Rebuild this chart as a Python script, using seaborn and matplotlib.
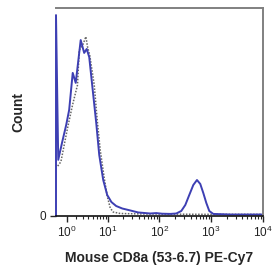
import numpy as np
import pandas as pd
import matplotlib
matplotlib.use("Agg")
import matplotlib.pyplot as plt
import seaborn as sns

# ---- data ----
cd8_x = [0, 0, 0.2, 0.56, 0.94, 1.24, 1.63, 1.99, 2.67, 3.22, 3.67, 4.16, 4.93, 5.83,
         6.71, 8.06, 9.67, 11.7, 14.5, 19.05, 24.9, 38.9, 66.4, 86.7, 112, 162, 211,
         264, 316, 377, 451, 531, 615, 703, 804, 919, 1097, 2339, 10000]
cd8_y = [0, 96.6, 27, 35.6, 43.8, 51, 68.8, 64, 84.6, 78.4, 80.3, 76.4, 60.6, 44.7,
         29.3, 17.3, 10.1, 6.7, 4.8, 3.6, 2.9, 1.7, 1.2, 1.4, 1.1, 1.0, 1.2,
         2.4, 5.3, 10.1, 14.9, 17.3, 15.4, 11.1, 6.3, 2.4, 1.0, 0.7, 0.7]

iso_x = [0.152, 0.44, 1.07, 1.61, 2.22, 2.46, 2.95, 3.52, 3.82, 4.26, 5.30, 6.11,
         7.02, 8.44, 9.67, 11.1, 12.7, 17.4, 42.5, 615, 10000]
iso_y = [24, 26.1, 42.2, 53.4, 63, 79.8, 82, 86.2, 81.4, 77.4, 63, 46, 31.7, 18.3,
         9.6, 3.8, 1.9, 1.2, 1.0, 0.8, 0.8]

major_vals = [1, 10, 100, 1000, 10000]
major_labels = [r"$10^{0}$", r"$10^{1}$", r"$10^{2}$", r"$10^{3}$", r"$10^{4}$"]
x_label = "Mouse CD8a (53-6.7) PE-Cy7"
y_label = "Count"

sns.set_theme(style="ticks")
plt.rcParams["font.family"] = ["Liberation Sans", "DejaVu Sans"]
plt.rcParams["mathtext.fontset"] = "custom"
plt.rcParams["mathtext.rm"] = "Liberation Sans"
plt.rcParams["mathtext.it"] = "Liberation Sans"
plt.rcParams["mathtext.bf"] = "Liberation Sans:bold"

fig = plt.figure(figsize=(2.8, 2.8), dpi=100)
ax = fig.add_axes([0.2, 0.2286, 0.739, 0.7428])

iso = pd.DataFrame({"x": iso_x, "y": iso_y})
cd8 = pd.DataFrame({"x": cd8_x, "y": cd8_y})

sns.lineplot(data=iso, x="x", y="y", ax=ax, sort=False, estimator=None,
             color="#666666", linestyle=(0, (1, 1)), linewidth=1.1)
sns.lineplot(data=cd8, x="x", y="y", ax=ax, sort=False, estimator=None,
             color="#3d3fb3", linewidth=1.4)
for ln in ax.get_lines():
    ln.set_clip_on(False)

fwd = lambda v: np.arcsinh(np.asarray(v, dtype=float) / 2.0) / np.log(10)
inv = lambda u: 2.0 * np.sinh(np.asarray(u, dtype=float) * np.log(10))
ax.set_xscale("function", functions=(fwd, inv))
ax.set_xlim(0, 10000)
ax.set_ylim(0, 100)

minor = [m * d for d in [1, 10, 100, 1000] for m in range(2, 10)]
ax.set_xticks(major_vals)
ax.set_xticklabels(major_labels, fontsize=8.5, color="#222222")
ax.set_xticks(minor, minor=True)
ax.tick_params(axis="x", which="major", length=4, width=1, direction="out", pad=2)
ax.tick_params(axis="x", which="minor", length=2.5, width=0.8, direction="out")

ax.set_yticks([0])
ax.set_yticklabels(["0"], fontsize=8.5, color="#222222")
ax.tick_params(axis="y", length=4, width=1, pad=3)

ax.set_xlabel(x_label, fontsize=10, fontweight="bold", labelpad=8)
ax.set_ylabel(y_label, fontsize=10, fontweight="bold", labelpad=10)

for s in ["top", "right"]:
    ax.spines[s].set_visible(True)
    ax.spines[s].set_color("#808080")
    ax.spines[s].set_linewidth(1.4)
ax.spines["left"].set_visible(False)
ax.spines["bottom"].set_color("#111111")
ax.spines["bottom"].set_linewidth(1.2)

fig.savefig("out.png", dpi=100)
